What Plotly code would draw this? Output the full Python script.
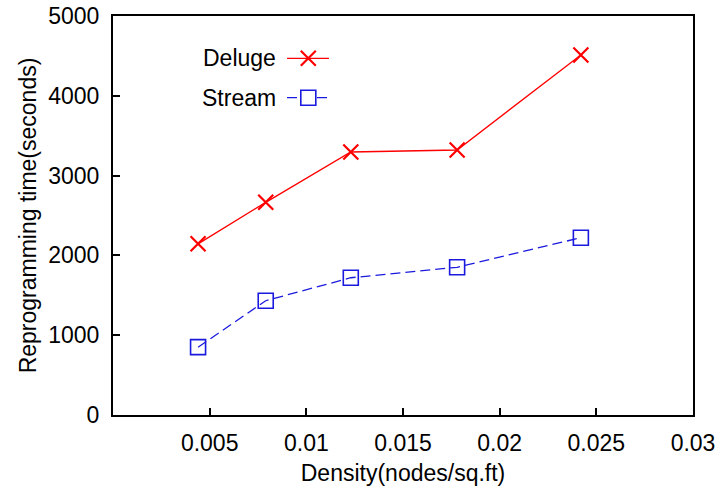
import plotly.graph_objects as go

density = [0.0044, 0.0079, 0.0123, 0.0178, 0.0242]
deluge = [2145, 2665, 3296, 3321, 4511]
stream = [850, 1432, 1720, 1851, 2222]

x_ticks = [0.005, 0.01, 0.015, 0.02, 0.025, 0.03]
x_ticktext = ["0.005", "0.01", "0.015", "0.02", "0.025", "0.03"]
y_ticks = [0, 1000, 2000, 3000, 4000, 5000]

RED = "#ff0000"
BLUE = "#1a1adf"
FONT = "Liberation Sans, Arial, sans-serif"
FS = 23

fig = go.Figure()
fig.add_trace(go.Scatter(x=density, y=deluge, mode="lines+markers", name="Deluge",
                         line=dict(color=RED, width=1.3),
                         marker=dict(symbol="x-thin", size=15, line=dict(color=RED, width=2.2))))
fig.add_trace(go.Scatter(x=density, y=stream, mode="lines+markers", name="Stream",
                         line=dict(color=BLUE, width=1.3, dash="10px,5px"),
                         marker=dict(symbol="square-open", size=15, color=BLUE, line=dict(color=BLUE, width=1.6))))

axis_common = dict(showgrid=False, zeroline=False, showline=True, linecolor="black", linewidth=2,
                   mirror=True, ticks="inside", ticklen=7, tickwidth=1.5, tickcolor="black",
                   automargin=False,
                   tickfont=dict(family=FONT, size=FS, color="black"))

fig.update_xaxes(range=[0, 0.03], tickvals=x_ticks, ticktext=x_ticktext,
                 title=dict(text="Density(nodes/sq.ft)", font=dict(family=FONT, size=FS, color="black"), standoff=10),
                 ticklabelstandoff=6, **axis_common)
fig.update_yaxes(range=[0, 5000], tickvals=y_ticks,
                 title=dict(text="Reprogramming time(seconds)", font=dict(family=FONT, size=FS, color="black"), standoff=5),
                 ticklabelstandoff=7, **axis_common)

# gnuplot-style legend (text left, sample right), in paper coordinates
def px_x(p):
    return (p - 113) / 580.0

def px_y(p):
    return (415 - p) / 399.0

legend_items = [("Deluge", RED, 58.3, "x", "solid"), ("Stream", BLUE, 97.7, "square", "dash")]
shapes = []
annotations = []
for name, color, py, sym, dash in legend_items:
    yy = px_y(py)
    annotations.append(dict(x=px_x(278), y=yy, xref="paper", yref="paper", text=name, showarrow=False,
                            xanchor="right", yanchor="middle", font=dict(family=FONT, size=FS, color="black")))
    shapes.append(dict(type="line", xref="paper", yref="paper", x0=px_x(287), x1=px_x(329), y0=yy, y1=yy,
                       line=dict(color=color, width=1.3, dash="solid" if dash == "solid" else "10px,5px")))
    if sym == "x":
        shapes.append(dict(type="path", xref="paper", yref="paper", xsizemode="pixel", ysizemode="pixel",
                           xanchor=px_x(308.3), yanchor=yy,
                           path="M -7.5 -7.5 L 7.5 7.5 M -7.5 7.5 L 7.5 -7.5",
                           line=dict(color=color, width=2.2)))
    else:
        shapes.append(dict(type="rect", xref="paper", yref="paper", xsizemode="pixel", ysizemode="pixel",
                           xanchor=px_x(308.3), yanchor=yy, x0=-7.5, x1=7.5, y0=-7.5, y1=7.5,
                           fillcolor="white", line=dict(color=color, width=1.6)))

fig.update_layout(width=722, height=489, margin=dict(l=113, r=29, t=16, b=74),
                  paper_bgcolor="white", plot_bgcolor="white", showlegend=False,
                  shapes=shapes, annotations=annotations, font=dict(family=FONT))

fig.write_html("out.html")
